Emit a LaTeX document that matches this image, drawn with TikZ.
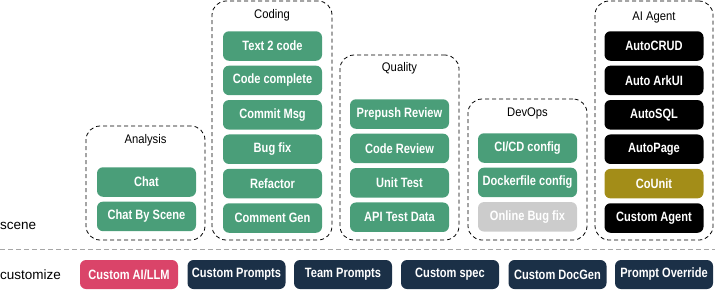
\documentclass[tikz,border=0pt]{standalone}
\usepackage{fontspec}
\setmainfont{Liberation Sans}
\newfontfamily\boxfont[FakeStretch=0.82]{Liberation Sans Bold}
\newfontfamily\titlefont[FakeStretch=0.9]{Liberation Sans}
\usetikzlibrary{positioning}
\definecolor{featgreen}{HTML}{4A9E79}
\definecolor{featolive}{HTML}{A38D18}
\definecolor{featpink}{HTML}{DA4469}
\definecolor{featnavy}{HTML}{1B3047}
\definecolor{featgray}{HTML}{CCCCCC}

\begin{document}
\begin{tikzpicture}[x=1pt,y=-1pt,node distance=4.5pt,
    feat/.style={rounded corners=6pt,minimum width=99pt,minimum height=29.5pt,inner sep=0pt,text=white,font=\boxfont\fontsize{13.5}{15}\selectfont},
    scenebox/.style={feat,fill=featgreen},
    agentbox/.style={feat,fill=black},
    custbox/.style={feat,fill=featnavy,minimum width=98pt,minimum height=29pt},
    group/.style={draw,dash pattern=on 4pt off 3pt,rounded corners=14pt,inner sep=0pt,line width=0.8pt},
    grouptitle/.style={font=\titlefont\fontsize{12.5}{14}\selectfont},
    rowlabel/.style={anchor=west,inner sep=0pt,font=\fontsize{13.5}{15}\selectfont}]
    \useasboundingbox (0,0) rectangle (715,290);

    % groups of the scene row
    \node[group,minimum width=119pt,minimum height=114pt] (analysis) at (145.5,183) {};
    \node[group,minimum width=120pt,minimum height=239pt] (coding) at (272,120.5) {};
    \node[group,minimum width=119pt,minimum height=185pt] (quality) at (399.5,147.5) {};
    \node[group,minimum width=119pt,minimum height=141pt] (devops) at (527.5,169.5) {};
    \node[group,minimum width=118pt,minimum height=239pt] (agent) at (654,120.5) {};

    \node[grouptitle] (analysistitle) at (145.5,140) {Analysis};
    \node[grouptitle] (codingtitle) at (272,15) {Coding};
    \node[grouptitle] (qualitytitle) at (399.5,68) {Quality};
    \node[grouptitle] (devopstitle) at (527.5,113) {DevOps};
    \node[grouptitle] (agenttitle) at (654,17) {AI Agent};

    % Analysis
    \node[scenebox] (chat) at (146.5,182) {Chat};
    \node[scenebox,below=of chat] (chatscene) {Chat By Scene};

    % Coding
    \node[scenebox] (text2code) at (272.5,46) {Text 2 code};
    \node[scenebox,below=of text2code] (complete) {Code complete};
    \node[scenebox,below=of complete] (commitmsg) {Commit Msg};
    \node[scenebox,below=of commitmsg] (bugfix) {Bug fix};
    \node[scenebox,below=of bugfix] (refactor) {Refactor};
    \node[scenebox,below=of refactor] (commentgen) {Comment Gen};

    % Quality
    \node[scenebox] (prepush) at (399.5,114) {Prepush Review};
    \node[scenebox,below=of prepush] (review) {Code Review};
    \node[scenebox,below=of review] (unittest) {Unit Test};
    \node[scenebox,below=of unittest] (apitest) {API Test Data};

    % DevOps
    \node[scenebox] (cicd) at (527.5,148) {CI/CD config};
    \node[scenebox,below=of cicd] (docker) {Dockerfile config};
    \node[feat,fill=featgray,below=of docker] (onlinebug) {Online Bug fix};

    % AI Agent
    \node[agentbox] (autocrud) at (654,46) {AutoCRUD};
    \node[agentbox,below=of autocrud] (arkui) {Auto ArkUI};
    \node[agentbox,below=of arkui] (autosql) {AutoSQL};
    \node[agentbox,below=of autosql] (autopage) {AutoPage};
    \node[feat,fill=featolive,below=of autopage] (counit) {CoUnit};
    \node[agentbox,below=of counit] (customagent) {Custom Agent};

    % separator
    \coordinate (sepleft) at (0,249);
    \coordinate (sepright) at (715,249);
    \draw[color=black!35,line width=0.8pt,dash pattern=on 5pt off 3pt] (sepleft) -- (sepright);

    \node[rowlabel] (scene) at (0,226) {scene};
    \node[rowlabel] (customize) at (0,275) {customize};

    % customize row
    \node[custbox,fill=featpink] (customllm) at (129,274.5) {Custom AI/LLM};
    \node[custbox] (customprompts) at (236.5,274.5) {Custom Prompts};
    \node[custbox] (teamprompts) at (343,274.5) {Team Prompts};
    \node[custbox] (customspec) at (450,274.5) {Custom spec};
    \node[custbox] (docgen) at (557.5,274.5) {Custom DocGen};
    \node[custbox] (override) at (664,274.5) {Prompt Override};
\end{tikzpicture}
\end{document}
